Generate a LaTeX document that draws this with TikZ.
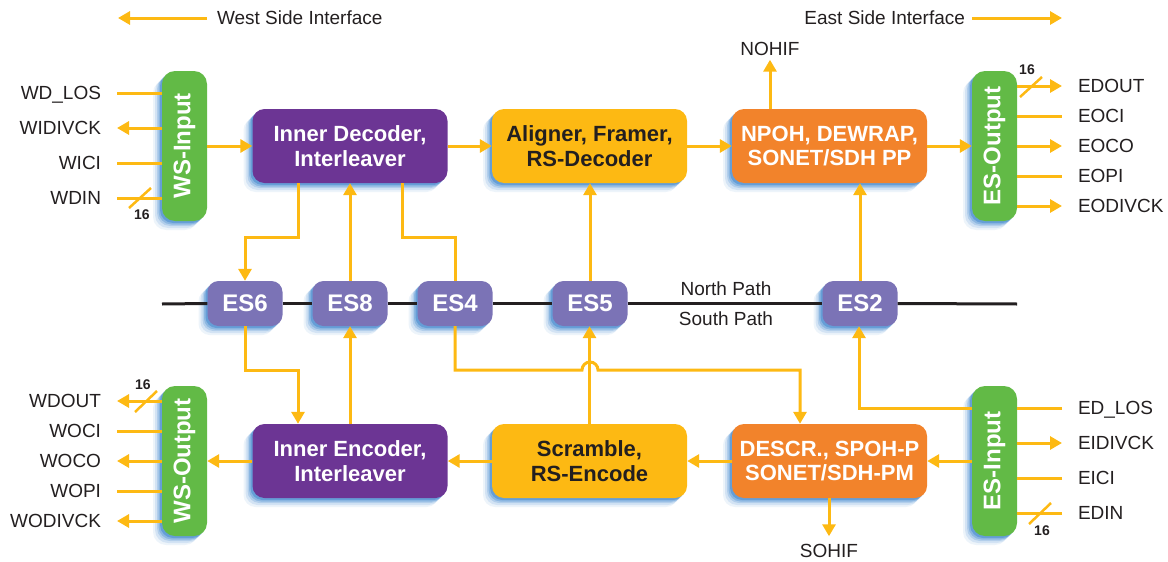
\documentclass[tikz,border=0pt]{standalone}
\usepackage{fontspec}
\usepackage{graphicx}
\setmainfont{Liberation Sans}
\usetikzlibrary{arrows.meta,shadows,calc}
\definecolor{ylw}{RGB}{253,185,19}
\definecolor{grn}{RGB}{98,186,70}
\definecolor{prp}{RGB}{108,53,148}
\definecolor{org}{RGB}{242,131,43}
\definecolor{esc}{RGB}{123,115,182}
\definecolor{tgray}{RGB}{35,31,32}
\definecolor{shb}{RGB}{26,111,196}
\begin{document}
\begin{tikzpicture}[x=1pt,y=-1pt,
  glow/.style={
    general shadow={fill=shb, opacity=0.08, shadow xshift=-9pt, shadow yshift=-9pt},
    general shadow={fill=shb, opacity=0.12, shadow xshift=-7pt, shadow yshift=-7pt},
    general shadow={fill=shb, opacity=0.18, shadow xshift=-5pt, shadow yshift=-5pt},
    general shadow={fill=shb, opacity=0.25, shadow xshift=-3.5pt, shadow yshift=-3.5pt},
    general shadow={fill=shb, opacity=0.35, shadow xshift=-2pt, shadow yshift=-2pt}},
  box/.style={rounded corners=12pt, minimum width=195pt, minimum height=74pt, inner sep=0pt,
    align=center, font=\fontsize{22}{24.5}\selectfont\bfseries, glow},
  side/.style={rounded corners=13pt, fill=grn, minimum width=45pt, minimum height=150pt,
    inner sep=0pt, text=white, font=\fontsize{24}{26}\selectfont\bfseries, glow},
  esb/.style={rounded corners=11pt, fill=esc, minimum width=75pt, minimum height=45pt,
    inner sep=0pt, text=white, font=\fontsize{24}{26}\selectfont\bfseries, glow},
  lab/.style={inner sep=0pt, outer xsep=16pt, text height=13.5pt, text depth=0pt,
    font=\fontsize{19}{21}\selectfont, text=tgray},
  wl/.style={lab, anchor=east},
  el/.style={lab, anchor=west},
  txt/.style={inner sep=0pt, font=\fontsize{19}{21}\selectfont, text=tgray},
  num/.style={inner sep=0pt, font=\fontsize{14}{16}\selectfont\bfseries, text=tgray},
  arr/.style={draw=ylw, line width=3pt, -{Triangle[length=12pt,width=13pt]}},
  ln/.style={draw=ylw, line width=3pt},
  blk/.style={draw=tgray, line width=3pt}
]
\useasboundingbox (0,0) rectangle (1168,562);

% interface headings
\node[txt, anchor=west, outer xsep=10pt] (wsi) at (207,18) {West Side Interface};
\coordinate (wsiend) at (118,18);
\draw[arr] (wsi) -- (wsiend);
\node[txt, anchor=east, outer xsep=7pt] (esi) at (972,18) {East Side Interface};
\coordinate (esiend) at (1062,18);
\draw[arr] (esi) -- (esiend);

% side blocks
\node[side] (wsin) at (184.5,146) {\rotatebox{90}{WS-Input}};
\node[side] (wsout) at (184.5,461) {\rotatebox{90}{WS-Output}};
\node[side] (esout) at (994.5,146) {\rotatebox{90}{ES-Output}};
\node[side] (esin) at (994.5,461) {\rotatebox{90}{ES-Input}};

% main blocks
\node[box, fill=prp, text=white] (dec) at (350,146) {Inner Decoder,\\Interleaver};
\node[box, fill=ylw, text=tgray] (ali) at (589.5,146) {Aligner, Framer,\\RS-Decoder};
\node[box, fill=org, text=white] (npoh) at (829.5,146) {NPOH, DEWRAP,\\SONET/SDH PP};
\node[box, fill=prp, text=white] (enc) at (350,461) {Inner Encoder,\\Interleaver};
\node[box, fill=ylw, text=tgray] (scr) at (589.5,461) {Scramble,\\RS-Encode};
\node[box, fill=org, text=white] (desc) at (829.5,461) {DESCR., SPOH-P\\SONET/SDH-PM};

% ES nodes
\node[esb] (es6) at (245,303.5) {ES6};
\node[esb] (es8) at (350,303.5) {ES8};
\node[esb] (es4) at (455,303.5) {ES4};
\node[esb] (es5) at (590,303.5) {ES5};
\node[esb] (es2) at (860,303.5) {ES2};

% black path line
\coordinate (bl) at (162,304);
\coordinate (br) at (1017,304);
\draw[blk] (bl) -- (es6.west);
\draw[blk] (es6.east) -- (es8.west);
\draw[blk] (es8.east) -- (es4.west);
\draw[blk] (es4.east) -- (es5.west);
\draw[blk] (es5.east) -- (es2.west);
\draw[blk] (es2.east) -- (br);
\node[txt] (np) at (726,289) {North Path};
\node[txt] (sp) at (726,319) {South Path};

% horizontal data flow
\draw[arr] (wsin.east) -- (dec.west);
\draw[arr] (dec.east) -- (ali.west);
\draw[arr] (ali.east) -- (npoh.west);
\draw[arr] (npoh.east) -- (esout.west);
\draw[arr] (esin.west) -- (desc.east);
\draw[arr] (desc.west) -- (scr.east);
\draw[arr] (scr.west) -- (enc.east);
\draw[arr] (enc.west) -- (wsout.east);

% overhead interfaces
\node[txt, outer sep=4pt] (nohif) at (770,49) {NOHIF};
\draw[arr] (npoh.north -| nohif) -- (nohif.south);
\node[txt, outer sep=8pt] (sohif) at (829,551) {SOHIF};
\draw[arr] (desc.south -| sohif) -- (sohif.north);

% vertical connections
\coordinate (c1) at (298,237);
\draw[arr] (dec.south -| c1) -- (c1) -| (es6.north);
\draw[arr] (es8.north) -- (es8.north |- dec.south);
\coordinate (c2) at (402,237);
\draw[ln] (dec.south -| c2) -- (c2) -| (es4.north);
\draw[arr] (es5.north) -- (es5.north |- ali.south);
\draw[arr] (es2.north) -- (es2.north |- npoh.south);
\coordinate (c3) at (298,370);
\draw[arr] (es6.south) |- (c3) -- (c3 |- enc.north);
\draw[arr] (enc.north -| es8.south) -- (es8.south);
\coordinate (c4) at (800,370);
\coordinate (bmp) at (582,370);
\draw[arr] (es4.south) |- (bmp) arc[start angle=180, end angle=0, x radius=8pt, y radius=8pt] -- (c4) -- (c4 |- desc.north);
\draw[arr] (scr.north) -- (scr.north |- es5.south);
\coordinate (c5) at (859,408);
\draw[arr] (esin.west |- c5) -- (c5) -- (c5 |- es2.south);

% west input labels
\node[wl] (wdlos) at (117,93) {WD\_LOS};
\node[wl] (widivck) at (117,128) {WIDIVCK};
\node[wl] (wici) at (117,163) {WICI};
\node[wl] (wdin) at (117,198) {WDIN};
\draw[ln] (wdlos) -- (wsin.west |- wdlos);
\draw[arr] (wsin.west |- widivck) -- (widivck);
\draw[ln] (wici) -- (wsin.west |- wici);
\draw[ln] (wdin) -- (wsin.west |- wdin);
\draw[ln, line width=2.5pt] (129,208) -- (151,188);
\node[num] (n1) at (142,215) {16};

% west output labels
\node[wl] (wdout) at (117,401) {WDOUT};
\node[wl] (woci) at (117,431) {WOCI};
\node[wl] (woco) at (117,461) {WOCO};
\node[wl] (wopi) at (117,491) {WOPI};
\node[wl] (wodivck) at (117,521) {WODIVCK};
\draw[arr] (wsout.west |- wdout) -- (wdout);
\draw[ln] (woci) -- (wsout.west |- woci);
\draw[arr] (wsout.west |- woco) -- (woco);
\draw[ln] (wopi) -- (wsout.west |- wopi);
\draw[arr] (wsout.west |- wodivck) -- (wodivck);
\draw[ln, line width=2.5pt] (135,412) -- (157,391);
\node[num] (n2) at (143,385) {16};

% east output labels
\node[el] (edout) at (1062,86) {EDOUT};
\node[el] (eoci) at (1062,116) {EOCI};
\node[el] (eoco) at (1062,146) {EOCO};
\node[el] (eopi) at (1062,176) {EOPI};
\node[el] (eodivck) at (1062,206) {EODIVCK};
\draw[arr] (esout.east |- edout) -- (edout);
\draw[ln] (esout.east |- eoci) -- (eoci);
\draw[arr] (esout.east |- eoco) -- (eoco);
\draw[ln] (esout.east |- eopi) -- (eopi);
\draw[arr] (esout.east |- eodivck) -- (eodivck);
\draw[ln, line width=2.5pt] (1020,97) -- (1042,77);
\node[num] (n3) at (1027,70) {16};

% east input labels
\node[el] (edlos) at (1062,408) {ED\_LOS};
\node[el] (eidivck) at (1062,443) {EIDIVCK};
\node[el] (eici) at (1062,478) {EICI};
\node[el] (edin) at (1062,513) {EDIN};
\draw[ln] (edlos) -- (esin.east |- edlos);
\draw[arr] (esin.east |- eidivck) -- (eidivck);
\draw[ln] (eici) -- (esin.east |- eici);
\draw[ln] (edin) -- (esin.east |- edin);
\draw[ln, line width=2.5pt] (1029,524) -- (1051,503);
\node[num] (n4) at (1042,531) {16};
\end{tikzpicture}
\end{document}
